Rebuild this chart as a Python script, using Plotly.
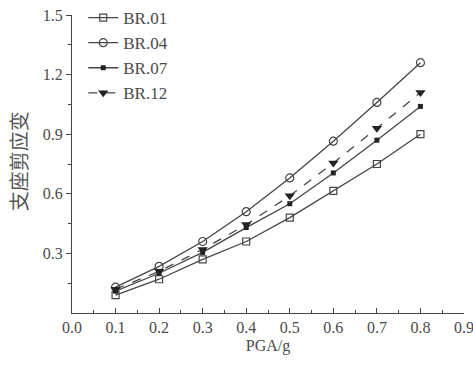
import plotly.graph_objects as go

pga = [0.1, 0.2, 0.3, 0.4, 0.5, 0.6, 0.7, 0.8]
br01 = [0.09, 0.17, 0.27, 0.36, 0.48, 0.615, 0.75, 0.90]
br04 = [0.13, 0.235, 0.36, 0.51, 0.68, 0.865, 1.06, 1.26]
br07 = [0.11, 0.20, 0.305, 0.43, 0.55, 0.705, 0.87, 1.04]
br12 = [0.12, 0.21, 0.32, 0.445, 0.59, 0.755, 0.93, 1.11]
x_ticks = [0.0, 0.1, 0.2, 0.3, 0.4, 0.5, 0.6, 0.7, 0.8, 0.9]
y_ticks = [0.3, 0.6, 0.9, 1.2, 1.5]

line_col = "#454545"
text_col = "#4a4a4a"
serif = "Liberation Serif, Times New Roman, serif"

fig = go.Figure()
fig.add_trace(go.Scatter(x=pga, y=br01, name="BR.01", mode="lines+markers",
                         line=dict(color=line_col, width=1.3),
                         marker=dict(symbol="square-open", size=7, color=line_col, line=dict(width=1.2))))
fig.add_trace(go.Scatter(x=pga, y=br04, name="BR.04", mode="lines+markers",
                         line=dict(color=line_col, width=1.3),
                         marker=dict(symbol="circle-open", size=8, color=line_col, line=dict(width=1.2))))
fig.add_trace(go.Scatter(x=pga, y=br07, name="BR.07", mode="lines+markers",
                         line=dict(color=line_col, width=1.3),
                         marker=dict(symbol="square", size=5, color="#222222")))
fig.add_trace(go.Scatter(x=pga, y=br12, name="BR.12", mode="lines+markers",
                         line=dict(color=line_col, width=1.3, dash="dash"),
                         marker=dict(symbol="triangle-down", size=9, color="#222222")))

fig.update_layout(
    width=473, height=367,
    margin=dict(l=72, r=9, t=15, b=54, autoexpand=False),
    paper_bgcolor="white", plot_bgcolor="white",
    font=dict(family=serif, size=16, color=text_col),
    showlegend=True,
    legend=dict(xref="container", yref="container", x=0.176, y=1.0, xanchor="left", yanchor="top",
                bgcolor="rgba(0,0,0,0)", font=dict(family=serif, size=17, color=text_col),
                tracegroupgap=0, itemwidth=30),
    xaxis=dict(range=[0, 0.9], tickvals=x_ticks, ticktext=[f"{v:.1f}" for v in x_ticks],
               automargin=False, ticklabeloverflow="allow",
               showgrid=False, zeroline=False, showline=True, linecolor=line_col, linewidth=1.2,
               ticks="inside", ticklen=5, tickcolor=line_col,
               minor=dict(tickvals=[0.05 + 0.1 * i for i in range(9)], ticks="inside", ticklen=3, tickcolor=line_col),
               title=dict(text="PGA/g", font=dict(family=serif, size=16, color=text_col), standoff=4)),
    yaxis=dict(range=[0, 1.5], tickvals=y_ticks, ticktext=[f"{v:.1f}" for v in y_ticks],
               automargin=False, ticklabeloverflow="allow",
               showgrid=False, zeroline=False, showline=True, linecolor=line_col, linewidth=1.2,
               ticks="outside", ticklen=5, tickcolor=line_col,
               minor=dict(tickvals=[0.15 + 0.3 * i for i in range(5)], ticks="outside", ticklen=3, tickcolor=line_col)),
    annotations=[dict(text="支座剪应变", textangle=-90, xref="paper", yref="paper",
                      x=-0.137, y=0.51, xanchor="center", yanchor="middle", showarrow=False,
                      font=dict(family="Noto Sans CJK SC", size=20, color="#555555"))],
)

fig.write_html("out.html", config={"displayModeBar": False},
               post_script="document.body.style.margin='0';document.body.style.overflow='hidden';")
